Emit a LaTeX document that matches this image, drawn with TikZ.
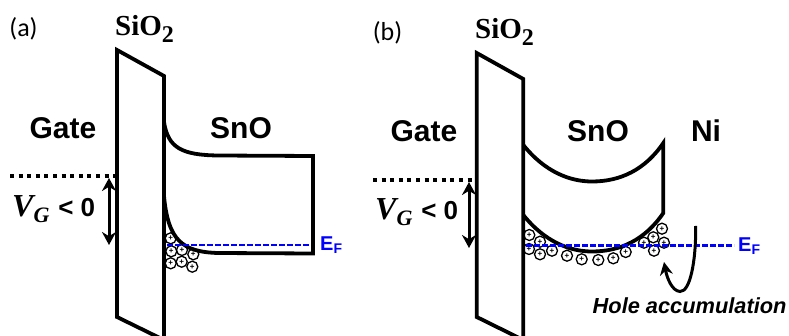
\documentclass[tikz,border=0pt]{standalone}
\usepackage{fontspec}
\setmainfont{Liberation Sans}
\newfontfamily\panelfont{Carlito}
\newfontfamily\oxidefont{Liberation Serif}
\usepackage{tikz}
\usetikzlibrary{arrows.meta,positioning}

\begin{document}
\begin{tikzpicture}[
    x=1pt,
    y=-1pt,
    panel/.style={font=\panelfont\fontsize{26}{26}\selectfont, inner sep=0pt},
    oxide/.style={font=\oxidefont\bfseries\fontsize{29}{29}\selectfont, inner sep=0pt},
    material/.style={font=\bfseries\fontsize{30}{30}\selectfont, inner sep=0pt},
    voltage/.style={font=\bfseries\fontsize{32}{32}\selectfont, inner sep=0pt},
    fermi/.style={font=\bfseries\fontsize{20}{20}\selectfont, text=blue, inner sep=0pt},
    band/.style={line width=3.8pt, line join=miter},
    barrier/.style={line width=3.8pt, line join=miter},
    level/.style={line width=3.6pt, dash pattern=on 4pt off 4.6pt},
    swing/.style={{Stealth[length=13pt,width=14pt]}-{Stealth[length=13pt,width=14pt]}, line width=3pt},
    fermiline/.style={blue, line width=2.6pt, dash pattern=on 5.5pt off 2.5pt},
    hole/.style={circle, draw=black, line width=1.3pt, fill=white, minimum size=11pt, inner sep=0pt,
        font=\bfseries\fontsize{8}{8}\selectfont}
]
\useasboundingbox (0,0) rectangle (789,336);

% =========================================
% Panel (a): holes at the interface
% =========================================
\node[hole] (a1) at (170.7,238.3) {+};
\node[hole] (a2) at (171.3,251.3) {+};
\node[hole] (a3) at (182,250) {+};
\node[hole] (a4) at (193.3,254.3) {+};
\node[hole] (a5) at (170.7,263.3) {+};
\node[hole] (a6) at (181.7,261.7) {+};
\node[hole] (a7) at (192.3,266.7) {+};

% =========================================
% Panel (a): oxide and bands
% =========================================
\draw[barrier] (117,50) -- (164,76) -- (164,340) -- (117,317) -- cycle;
\draw[band] (164,122) .. controls (168,148) and (182,155) .. (218,155.5)
    -- (313,156) -- (313,253.5) -- (218,253)
    .. controls (182,252) and (168,240) .. (164,196);

% Fermi level
\coordinate (efastart) at (167,245);
\node[fermi, anchor=west] (efa) at (320,245) {E\raisebox{-3pt}{\fontsize{14}{14}\selectfont F}};
\draw[fermiline] (efastart) -- (310,245);

% Gate level and swing
\coordinate (gatea) at (10,176);
\coordinate (oxidea) at (117,176);
\coordinate (swingatop) at (109,178);
\coordinate (swingabot) at (109,245);
\draw[level] (gatea) -- (oxidea);
\draw[swing] (swingatop) -- (swingabot);

% Labels
\node[panel] (laba) at (23.5,29) {(a)};
\node[oxide, anchor=base west] (sioa) at (115,36) {SiO\raisebox{-7pt}{\fontsize{24}{24}\selectfont 2}};
\node[material] (gatelaba) at (63,128) {Gate};
\node[material] (snoa) at (241,128) {SnO};
\node[voltage, anchor=base west] (vga) at (12,217)
    {{\oxidefont\itshape V\raisebox{-6pt}{\fontsize{22}{22}\selectfont G}} {\fontsize{26}{26}\selectfont< 0}};

% =========================================
% Panel (b): holes along the bent band
% =========================================
\node[hole] (b1) at (529.3,235) {+};
\node[hole] (b2) at (540,241.7) {+};
\node[hole] (b3) at (529,249) {+};
\node[hole] (b4) at (540,254.3) {+};
\node[hole] (b5) at (552,250.7) {+};
\node[hole] (b6) at (567,255.7) {+};
\node[hole] (b7) at (581.7,259.3) {+};
\node[hole] (b8) at (598.3,260) {+};
\node[hole] (b9) at (613.3,258.3) {+};
\node[hole] (b10) at (625.7,252) {+};
\node[hole] (b11) at (644,242.7) {+};
\node[hole] (b12) at (653.3,237.3) {+};
\node[hole] (b13) at (662,228.7) {+};
\node[hole] (b14) at (664,242.7) {+};
\node[hole] (b15) at (654,250.7) {+};

% =========================================
% Panel (b): oxide and bands
% =========================================
\draw[barrier] (476.7,53) -- (523.3,79) -- (523.3,340) -- (476.7,317) -- cycle;
\draw[band] (523.3,145) .. controls (545,172) and (570,181.5) .. (592,181.5)
    .. controls (620,181.5) and (645,170) .. (663.3,143)
    -- (663.3,213)
    .. controls (645,240) and (620,251.5) .. (592,251.5)
    .. controls (570,251.5) and (545,242) .. (523.3,215);

% Fermi level
\coordinate (efbstart) at (526,245.7);
\node[fermi, anchor=west] (efb) at (738,245.7) {E\raisebox{-3pt}{\fontsize{14}{14}\selectfont F}};
\draw[fermiline] (efbstart) -- (734,245.7);

% Gate level and swing
\coordinate (gateb) at (373,180);
\coordinate (oxideb) at (476,180);
\coordinate (swingbtop) at (469,182);
\coordinate (swingbbot) at (469,248);
\draw[level] (gateb) -- (oxideb);
\draw[swing] (swingbtop) -- (swingbbot);

% Hole injection from the contact
\coordinate (injstart) at (695.7,226);
\coordinate (injend) at (664,262);
\draw[-{Stealth[length=13pt,width=13pt]}, line width=3pt] (injstart)
    .. controls (696,262) and (690,292) .. (680,291.5)
    .. controls (672,291) and (667,278) .. (injend);

% Labels
\node[panel] (labb) at (387.5,33) {(b)};
\node[oxide, anchor=base west] (siob) at (475,39) {SiO\raisebox{-7pt}{\fontsize{24}{24}\selectfont 2}};
\node[material] (gatelabb) at (424,131) {Gate};
\node[material] (snob) at (598,131) {SnO};
\node[material] (nib) at (706,131) {Ni};
\node[voltage, anchor=base west] (vgb) at (375,220)
    {{\oxidefont\itshape V\raisebox{-6pt}{\fontsize{22}{22}\selectfont G}} {\fontsize{26}{26}\selectfont< 0}};
\node[font=\bfseries\itshape\fontsize{21.8}{22}\selectfont, anchor=base west, inner sep=0pt] (holelab) at (592.5,313) {Hole accumulation};

\end{tikzpicture}
\end{document}
